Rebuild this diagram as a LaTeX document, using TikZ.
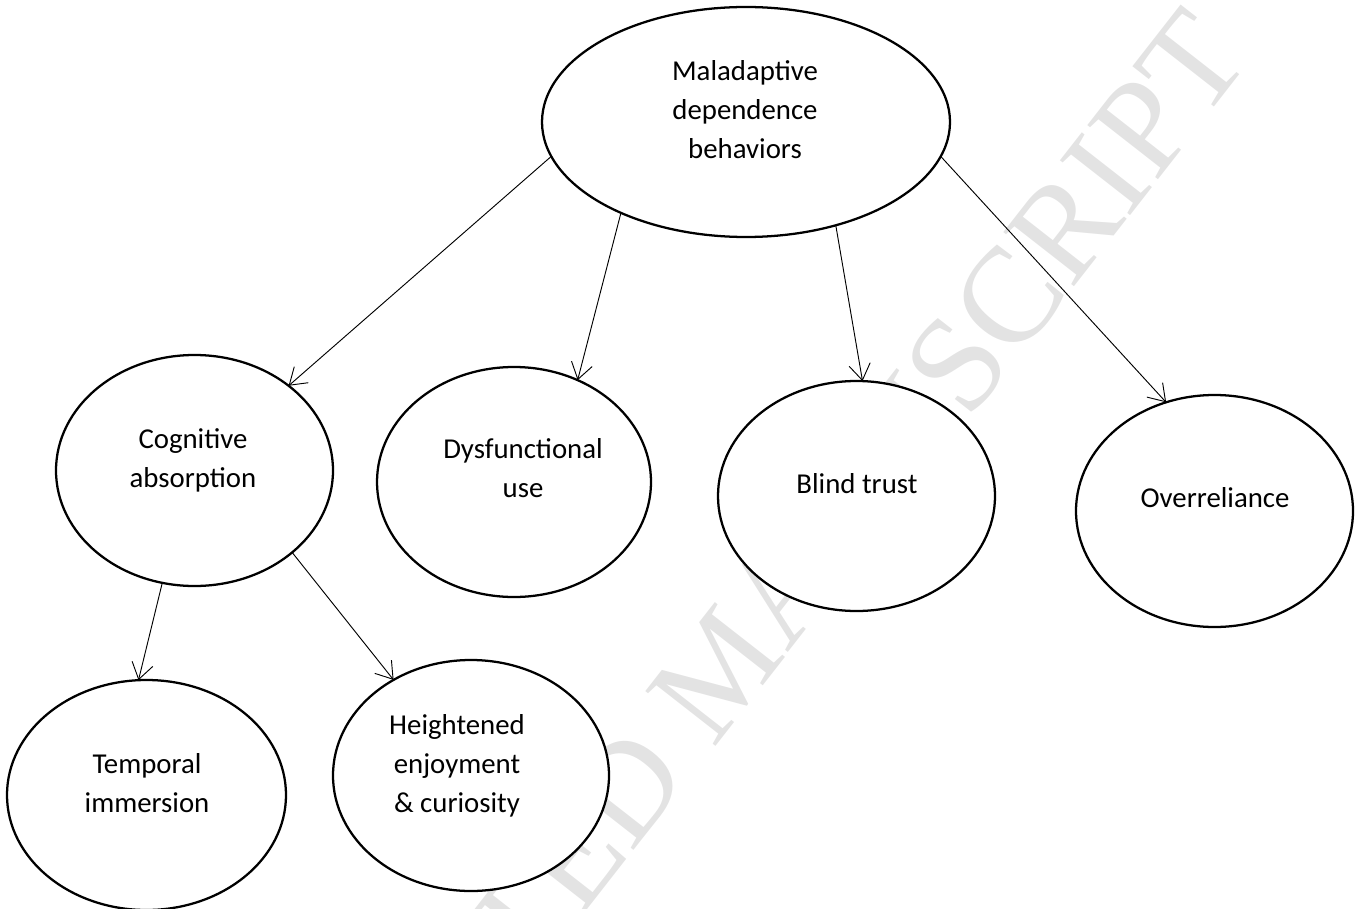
\documentclass[tikz,border=0pt]{standalone}
\usepackage{fontspec}
\setmainfont{Carlito}
\newfontfamily\wmfont{Liberation Serif}
\usetikzlibrary{shapes.geometric,arrows.meta}
\tikzset{
  bubble/.style={draw=black, fill=white, line width=1.7pt, ellipse, inner sep=0pt, outer sep=0pt},
  lbl/.style={align=center, inner sep=0pt, font=\fontsize{21.6}{29.25}\selectfont},
  conn/.style={draw=black, line width=0.7pt, -{Straight Barb[length=12pt,width=16pt,line width=0.7pt]}},
  wmark/.style={text=black!11, font=\wmfont\fontsize{102}{102}\selectfont, inner sep=0pt, rotate=52}
}
\begin{document}
\begin{tikzpicture}[x=0.75pt,y=-0.75pt]
\useasboundingbox (0,0) rectangle (1355,909);
\begin{scope}
\clip (0,0) rectangle (1355,909);
\node[wmark, anchor=base east] (wm) at (1253,58) {ACCEPTED MANUSCRIPT};
\end{scope}
% ellipses
\node[bubble, minimum width=408*0.75pt, minimum height=230*0.75pt] (mal) at (746,122) {};
\node[bubble, minimum width=277*0.75pt, minimum height=231*0.75pt] (cog) at (194.5,470.5) {};
\node[bubble, minimum width=274*0.75pt, minimum height=230*0.75pt] (dys) at (514,482) {};
\node[bubble, minimum width=277*0.75pt, minimum height=230*0.75pt] (blind) at (856.5,496) {};
\node[bubble, minimum width=277*0.75pt, minimum height=232*0.75pt] (over) at (1214.5,511) {};
\node[bubble, minimum width=279*0.75pt, minimum height=230*0.75pt] (temp) at (146.5,795) {};
\node[bubble, minimum width=276*0.75pt, minimum height=231*0.75pt] (heigh) at (471,775.5) {};
% labels
\node[lbl] (tmal) at (745,110) {Maladaptive\\dependence\\behaviors};
\node[lbl] (tcog) at (193,460.5) {Cognitive\\absorption};
\node[lbl] (tdys) at (523,468.5) {Dysfunctional\\use};
\node[lbl] (tblind) at (857,484) {Blind trust};
\node[lbl] (tover) at (1215,498) {Overreliance};
\node[lbl] (ttemp) at (147,783) {Temporal\\immersion};
\node[lbl] (theigh) at (457,766) {Heightened\\enjoyment\\\& curiosity};
% connectors
\draw[conn] (mal.190.3) -- (cog.42.2);
\draw[conn] (mal.216.6) -- (dys.58.6);
\draw[conn] (mal.311.9) -- (blind.87.2);
\draw[conn] (mal.350) -- (over.114.6);
\draw[conn] (cog.254.8) -- (temp.94.1);
\draw[conn] (cog.320.1) -- (heigh.129.7);
\end{tikzpicture}
\end{document}
